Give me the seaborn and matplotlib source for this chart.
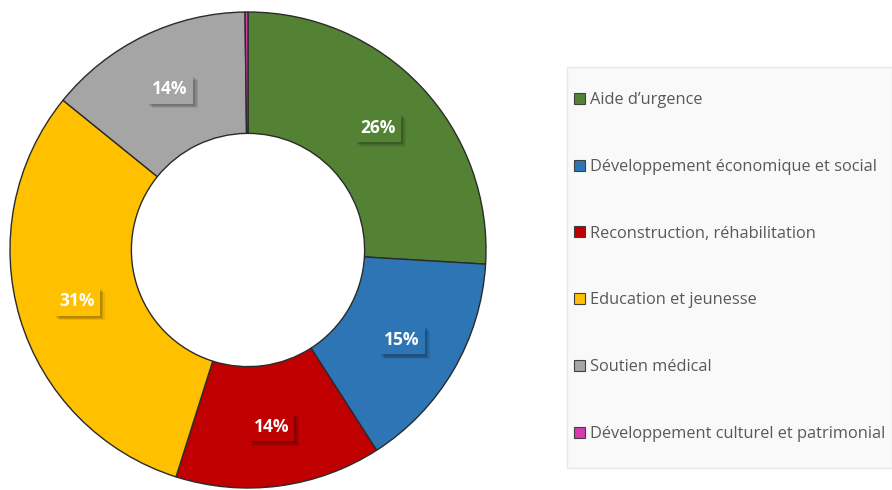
import numpy as np
import matplotlib
matplotlib.use("Agg")
import matplotlib.pyplot as plt
import matplotlib.patheffects as pe
from matplotlib.patches import Patch, Rectangle
import seaborn as sns

sns.set_theme(style="white")
plt.rcParams['font.family'] = ['Open Sans', 'DejaVu Sans']

categories = ["Aide d\u2019urgence", "Développement économique et social",
              "Reconstruction, réhabilitation", "Education et jeunesse",
              "Soutien médical", "Développement culturel et patrimonial"]
shares = [26, 15, 14, 31, 14, 0.2]
colors = ["#548235", "#2E75B6", "#C00000", "#FFC000", "#A5A5A5", "#D63BAE"]

W, H = 892, 490
fig = plt.figure(figsize=(W / 100, H / 100), dpi=100)
ax = fig.add_axes([10 / W, 2 / H, 476 / W, 476 / H])

wedges, _ = ax.pie(shares, colors=colors, startangle=90, counterclock=False,
                   radius=1.0,
                   wedgeprops=dict(width=0.51, edgecolor="#2b2b2b", linewidth=1.0))
ax.set_aspect("equal")
ax.set_xlim(-1.0, 1.0)
ax.set_ylim(-1.0, 1.0)

# percentage labels in boxes, with a soft drop shadow
total = sum(shares)
for w, val, col in zip(wedges, shares, colors):
    pct = round(100 * val / total)
    if pct < 1:
        continue
    ang = np.deg2rad((w.theta1 + w.theta2) / 2)
    r = 0.75
    t = ax.text(r * np.cos(ang), r * np.sin(ang), f"{pct}%", ha="center", va="center",
                color="white", fontsize=12.5, fontweight="bold",
                bbox=dict(boxstyle="square,pad=0.3", facecolor=col, edgecolor="none"))
    t.get_bbox_patch().set_path_effects([
        pe.SimplePatchShadow(offset=(3.5, -3.5), shadow_rgbFace="black", alpha=0.08),
        pe.SimplePatchShadow(offset=(2.5, -2.5), shadow_rgbFace="black", alpha=0.12),
        pe.SimplePatchShadow(offset=(1.5, -1.5), shadow_rgbFace="black", alpha=0.12),
        pe.Normal()])

# legend panel
fig.patches.append(Rectangle((567 / W, 1 - 468 / H), (W - 567) / W, (468 - 67) / H,
                             transform=fig.transFigure, facecolor="#f9f9f9",
                             edgecolor="#e8e8e8", linewidth=1.0, zorder=0))

handles = [Patch(facecolor=c, edgecolor="#404040", linewidth=0.8) for c in colors]
leg = fig.legend(handles, categories, loc="center left",
                 bbox_to_anchor=(574 / W, 1 - 267 / H),
                 frameon=False, fontsize=11.8, labelcolor="#595959",
                 handlelength=0.65, handleheight=0.65, handletextpad=0.35,
                 labelspacing=3.1, borderpad=0, borderaxespad=0)

fig.savefig("out.png", dpi=100)
